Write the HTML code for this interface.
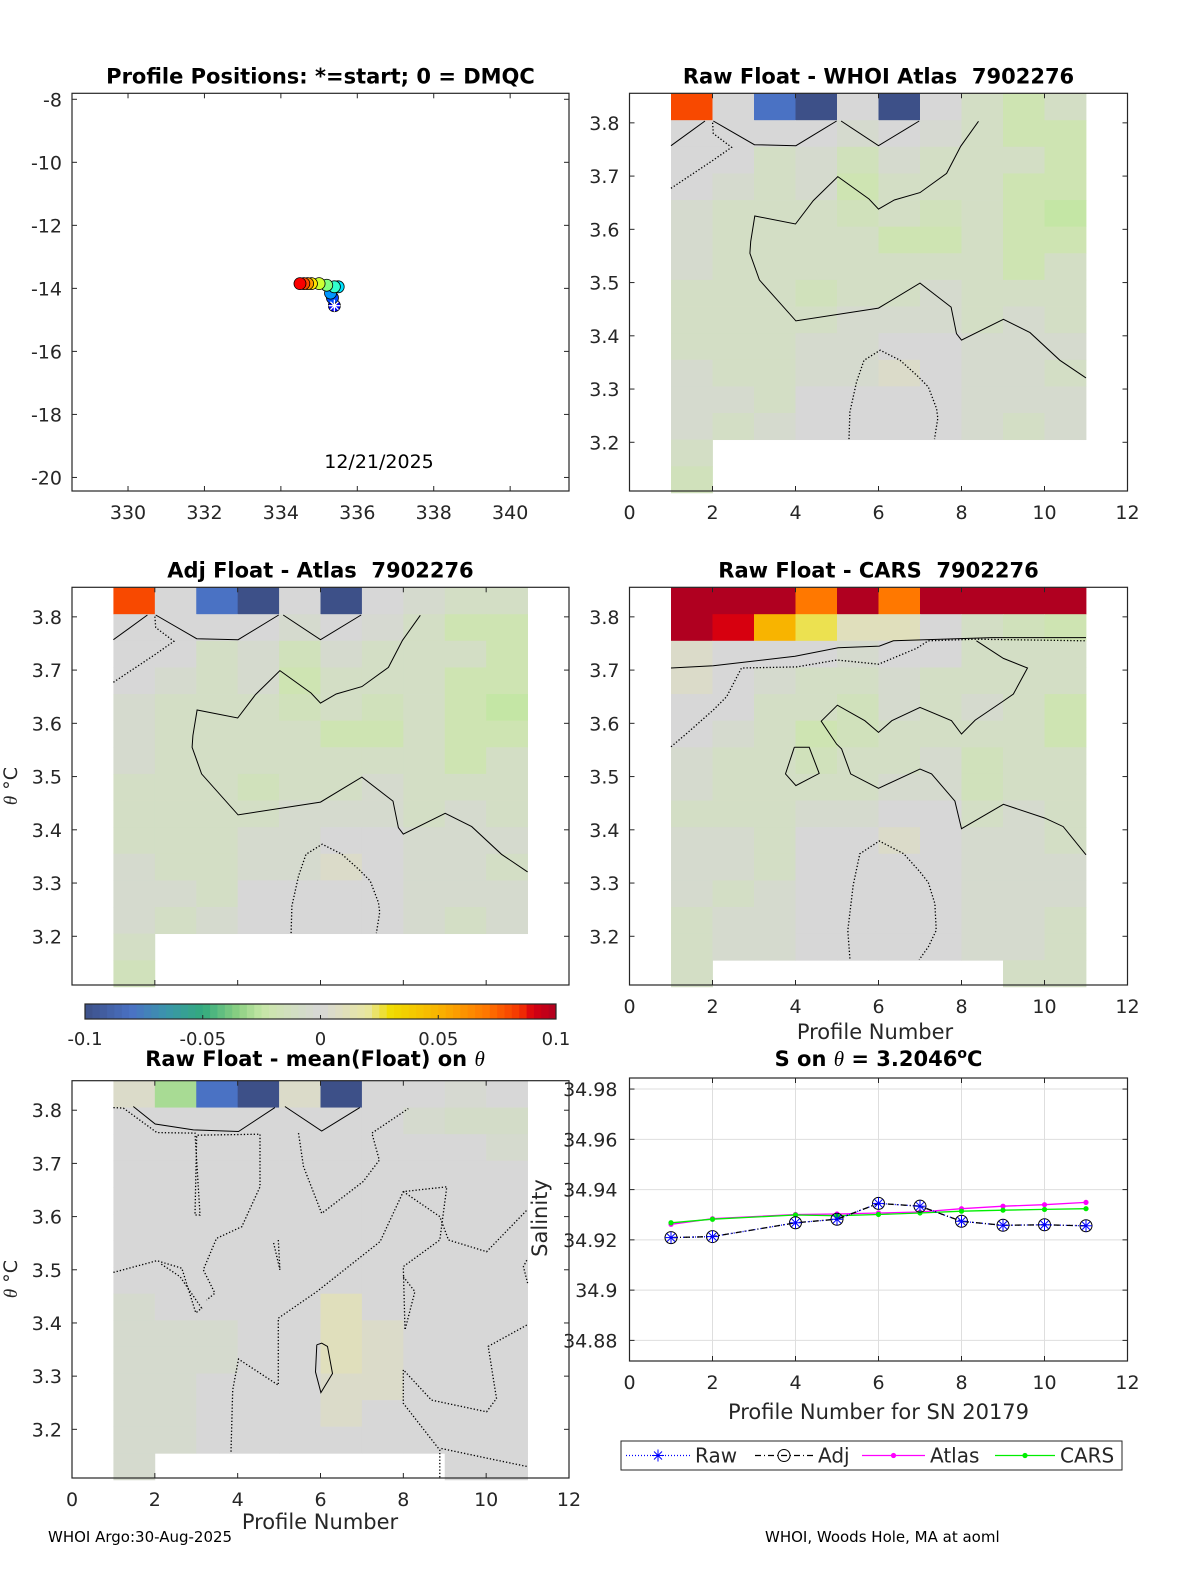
<!DOCTYPE html>
<html><head><meta charset="utf-8"><title>Float QC</title>
<style>
html,body{margin:0;padding:0;background:#fff;}
svg{display:block;font-family:"DejaVu Sans","Liberation Sans",sans-serif;}
svg text{white-space:pre;}
</style></head>
<body>
<svg id="fig" width="1200" height="1575" viewBox="0 0 1200 1575" xmlns="http://www.w3.org/2000/svg">
<rect x="0" y="0" width="1200" height="1575" fill="#fff"/>
</svg>
<script>
// ---------- data ----------
const lonVals = [335.4, 335.35, 335.3, 335.5, 335.4, 335.2, 335.0, 334.8, 334.7, 334.6, 334.5];
const latVals = [-14.55, -14.3, -14.15, -13.95, -13.95, -13.9, -13.85, -13.85, -13.85, -13.85, -13.85];
const lonTicks = [330, 332, 334, 336, 338, 340];
const latTicks = [-8, -10, -12, -14, -16, -18, -20];
const profTicks = [0, 2, 4, 6, 8, 10, 12];
const thetaTicks = [3.2, 3.3, 3.4, 3.5, 3.6, 3.7, 3.8];
const rowTops = [3.855,3.805,3.755,3.705,3.655,3.605,3.555,3.505,3.455,3.405,3.355,3.305,3.255,3.205,3.155];
const colStarts = [1,2,3,4,5,6,7,8,9,10];
const N = null;
const atlasDiff = [
 [0.08,0,-0.08,-0.1,0,-0.1,0,-0.01,-0.02,-0.01],
 [0,0,0,0,-0.005,0,-0.003,-0.01,-0.02,-0.02],
 [0,0,-0.01,-0.005,-0.015,-0.005,-0.01,-0.01,-0.01,-0.02],
 [0,-0.005,-0.01,-0.005,-0.02,-0.01,-0.01,-0.01,-0.02,-0.02],
 [-0.005,-0.01,-0.01,-0.01,-0.015,-0.01,-0.015,-0.01,-0.02,-0.025],
 [-0.005,-0.01,-0.01,-0.01,-0.01,-0.02,-0.02,-0.01,-0.02,-0.02],
 [-0.005,-0.01,-0.01,-0.01,-0.01,-0.01,-0.01,-0.01,-0.02,-0.01],
 [-0.01,-0.01,-0.01,-0.015,-0.01,-0.01,-0.005,-0.01,-0.01,-0.01],
 [-0.01,-0.01,-0.01,-0.01,-0.005,-0.005,-0.005,-0.01,-0.005,-0.01],
 [-0.01,-0.01,-0.01,-0.005,-0.005,0,0,-0.005,-0.005,-0.005],
 [-0.005,-0.01,-0.01,-0.005,-0.005,0.005,0,-0.005,-0.005,-0.01],
 [-0.005,-0.005,-0.01,0,0,0,0,-0.005,-0.005,-0.005],
 [-0.005,-0.01,-0.005,0,0,0,0,-0.005,-0.01,-0.005],
 [-0.01,N,N,N,N,N,N,N,N,N],
 [-0.015,N,N,N,N,N,N,N,N,N]];
const adjAtlasDiff = [
 [0.08,0,-0.08,-0.1,0,-0.1,0,-0.005,-0.01,-0.01],
 [0,0,0,0,-0.005,0,-0.003,-0.01,-0.02,-0.02],
 [0,0,-0.01,-0.005,-0.015,-0.005,-0.01,-0.01,-0.01,-0.02],
 [0,-0.005,-0.01,-0.005,-0.02,-0.01,-0.01,-0.01,-0.02,-0.02],
 [-0.005,-0.01,-0.01,-0.01,-0.015,-0.01,-0.015,-0.01,-0.02,-0.025],
 [-0.005,-0.01,-0.01,-0.01,-0.01,-0.02,-0.02,-0.01,-0.02,-0.02],
 [-0.005,-0.01,-0.01,-0.01,-0.01,-0.01,-0.01,-0.01,-0.02,-0.01],
 [-0.01,-0.01,-0.01,-0.015,-0.01,-0.01,-0.005,-0.01,-0.01,-0.01],
 [-0.01,-0.01,-0.01,-0.01,-0.005,-0.005,-0.005,-0.01,-0.005,-0.01],
 [-0.01,-0.01,-0.01,-0.005,-0.005,0,0,-0.005,-0.005,-0.005],
 [-0.005,-0.01,-0.01,-0.005,-0.005,0.005,0,-0.005,-0.005,-0.01],
 [-0.005,-0.005,-0.01,0,0,0,0,-0.005,-0.005,-0.005],
 [-0.005,-0.01,-0.005,0,0,0,0,-0.005,-0.01,-0.005],
 [-0.01,N,N,N,N,N,N,N,N,N],
 [-0.015,N,N,N,N,N,N,N,N,N]];
const carsDiff = [
 [0.1,0.1,0.1,0.07,0.1,0.07,0.1,0.1,0.1,0.1],
 [0.1,0.09,0.05,0.025,0.01,0.01,0,-0.01,-0.015,-0.02],
 [0.005,0,0,0,-0.005,0,0,-0.01,-0.01,-0.01],
 [0.005,0,-0.005,-0.01,-0.01,-0.005,-0.01,-0.01,-0.01,-0.01],
 [0,0,-0.01,-0.01,-0.015,-0.005,-0.01,-0.005,-0.01,-0.02],
 [0,-0.005,-0.01,-0.02,-0.015,-0.01,-0.01,-0.01,-0.01,-0.02],
 [-0.005,-0.01,-0.01,-0.015,-0.01,-0.01,-0.005,-0.015,-0.01,-0.01],
 [-0.005,-0.01,-0.01,-0.01,-0.01,-0.005,-0.005,-0.015,-0.01,-0.01],
 [-0.01,-0.01,-0.01,-0.005,-0.005,0,0,-0.01,-0.005,-0.01],
 [-0.005,-0.005,-0.01,0,0,0.005,0,-0.005,-0.005,-0.01],
 [-0.005,-0.005,-0.01,0,0,0,0,-0.005,-0.005,-0.005],
 [-0.005,-0.01,-0.005,0,0,0,0,-0.005,-0.005,-0.005],
 [-0.01,-0.005,-0.005,0,0,0,0,-0.005,-0.005,-0.01],
 [-0.01,-0.005,-0.005,0,0,0,0,-0.005,-0.005,-0.01],
 [-0.01,N,N,N,N,N,N,N,-0.01,-0.01]];
const meanDiff = [
 [0.005,-0.03,-0.08,-0.1,0.005,-0.1,0,0,-0.003,0],
 [0,0,0,0,0,0,0,-0.005,-0.008,-0.008],
 [0,0,0,0,0,0,0,0,0,-0.005],
 [0,0,0,0,0,0,0,0,0,0],
 [0,0,0,0,0,0,0,0,0,0],
 [0,0,0,0,0,0,0,0,0,0],
 [0,0,0,0,0,0,0,0,0,0],
 [0,0,0,0,0,0,0,0,0,0],
 [-0.005,0,0,0,0,0.01,0,0,0,0],
 [-0.005,-0.005,-0.005,0,0,0.01,0.005,0,0,0],
 [-0.005,-0.005,-0.005,0,0,0.01,0.005,0,0,0],
 [-0.005,-0.005,0,0,0,0.005,0.005,0,0,0],
 [-0.005,-0.005,0,0,0,0.005,0,0,0,0],
 [-0.005,-0.005,0,0,0,0,0,0,0,0],
 [-0.005,N,N,N,N,N,N,N,0,0]];
// contours [profile, theta]
const atlasSolidA = [[1,3.757],[1.82,3.8035]];
const atlasSolidB = [[2.02,3.8035],[3.01,3.759],[4.01,3.757],[4.99,3.8035]];
const atlasSolidC = [[5.1,3.8035],[6,3.757],[6.98,3.8035]];
const atlasSolidD = [[8.41,3.803],[7.98,3.756],[7.64,3.705],[7,3.669],[6.38,3.655],[6,3.638],[5.77,3.657],[5.02,3.699],[4.43,3.654],[4,3.61],[3.02,3.625],[2.92,3.577],[2.9,3.555],[3.13,3.505],[4.01,3.428],[6,3.452],[7,3.499],[7.75,3.454],[7.88,3.404],[8,3.392],[9.01,3.431],[9.65,3.406],[10.37,3.354],[11,3.321]];
const atlasDotA = [[1,3.677],[2.02,3.73],[2.46,3.754],[2.02,3.78],[2,3.803]];
const atlasDotB = [[5.29,3.206],[5.31,3.257],[5.47,3.313],[5.65,3.354],[6.04,3.373],[6.52,3.354],[6.92,3.326],[7.2,3.304],[7.4,3.263],[7.43,3.245],[7.35,3.206]];
const carsSolidA = [[1,3.704],[2.02,3.708],[3.99,3.726],[5.03,3.742],[6.02,3.745],[6.36,3.755],[8.73,3.761],[11,3.761]];
const carsSolidB = [[8.36,3.755],[9.01,3.722],[9.59,3.704],[9.25,3.655],[9.01,3.642],[8.33,3.606],[8,3.58],[7.76,3.605],[7,3.63],[6.32,3.605],[6,3.583],[5.67,3.605],[5.01,3.634],[4.62,3.604],[4.99,3.561],[5.11,3.552],[5.33,3.505],[6,3.478],[7,3.514],[7.28,3.505],[7.84,3.454],[8,3.402],[9.01,3.448],[10.01,3.422],[10.45,3.406],[11,3.353]];
const carsSolidC = [[3.97,3.555],[4.33,3.555],[4.57,3.506],[4.01,3.483],[3.76,3.505],[3.97,3.555]];
const carsDotA = [[1,3.556],[1.38,3.581],[2.02,3.625],[2.34,3.65],[2.7,3.704],[4.03,3.706],[5,3.719],[6,3.711],[6.92,3.741],[7.2,3.755],[8.36,3.758],[11,3.755]];
const carsDotB = [[5.31,3.158],[5.26,3.211],[5.39,3.296],[5.55,3.355],[6.02,3.379],[6.61,3.355],[7,3.321],[7.2,3.301],[7.36,3.261],[7.39,3.211],[7.2,3.18],[6.98,3.156]];
const meanSolidA = [[1.48,3.807],[2.01,3.774],[2.93,3.763],[4.02,3.76],[4.9,3.805]];
const meanSolidB = [[5.14,3.807],[6.03,3.761],[6.95,3.805]];
const meanSolidC = [[5.91,3.359],[6.03,3.362],[6.17,3.356],[6.29,3.305],[6.01,3.269],[5.88,3.308],[5.91,3.359]];
const meanDotA = [[1,3.805],[1.24,3.804],[2.05,3.758],[2.97,3.757],[3.09,3.603],[2.97,3.603],[3.01,3.753],[4.54,3.755],[4.54,3.656],[4.1,3.581],[3.49,3.559],[3.17,3.5],[3.45,3.456],[3.25,3.443]];
const meanDotB = [[1,3.495],[2.05,3.517],[2.65,3.503],[2.99,3.419],[3.13,3.428],[2.61,3.487],[2.13,3.512]];
const meanDotC = [[3.84,3.158],[3.88,3.274],[4.02,3.332],[4.98,3.283],[4.98,3.409],[5.91,3.459],[7.44,3.553],[8,3.647],[9.05,3.656],[8.88,3.556],[8,3.506],[8.04,3.387],[8.28,3.459],[8,3.487]];
const meanDotD = [[5.47,3.757],[5.59,3.694],[6.03,3.606],[7.03,3.666],[7.42,3.706],[7.24,3.757],[8.12,3.803]];
const meanDotE = [[8,3.647],[8.88,3.6],[9.09,3.556],[10.01,3.534],[10.98,3.612]];
const meanDotF = [[10.98,3.396],[10.05,3.356],[10.25,3.258],[10.01,3.233],[8.68,3.255],[8,3.312],[8,3.249],[8.88,3.161],[8.88,3.108]];
const meanDotG = [[8.92,3.164],[10.01,3.146],[11,3.13]];
const meanDotH = [[4.98,3.556],[5.02,3.5],[4.86,3.553]];
const meanDotI = [[10.98,3.518],[10.9,3.506],[11,3.475]];
// salinity series
const salProfiles = [1,2,4,5,6,7,8,9,10,11];
const salRaw = [34.9209,34.9213,34.9268,34.9282,34.9345,34.9334,34.9274,34.9258,34.9260,34.9256];
const salAdj = [34.9209,34.9213,34.9268,34.9282,34.9345,34.9334,34.9274,34.9258,34.9260,34.9256];
const salAtlas = [34.9262,34.9284,34.9301,34.9303,34.9307,34.9311,34.9324,34.9334,34.9340,34.9349];
const salCars = [34.9268,34.9282,34.9299,34.9296,34.9301,34.9307,34.9314,34.9318,34.9321,34.9324];
const salTicks = [34.88,34.9,34.92,34.94,34.96,34.98];
const cbarTicks = [-0.1,-0.05,0,0.05,0.1];

// ---------- helpers ----------
const svg = document.getElementById('fig');
const NS = 'http://www.w3.org/2000/svg';
function mk(tag, attrs, parent){
  const e = document.createElementNS(NS, tag);
  for (const k in attrs) e.setAttribute(k, attrs[k]);
  (parent||svg).appendChild(e);
  return e;
}
function txt(s, x, y, size, anchor, weight, parent){
  const t = mk('text', {x:x, y:y, 'font-size':size, 'text-anchor':anchor||'middle', 'font-weight':weight||'normal', fill:'#262626'}, parent);
  t.textContent = s;
  return t;
}
function lin(a,b,c,d){ return v => c + (v-a)*(d-c)/(b-a); }
const cmStops = [
 [-0.1,[61,80,136]],[-0.08,[74,114,196]],[-0.065,[58,150,170]],[-0.05,[50,170,125]],[-0.035,[140,208,130]],
 [-0.025,[196,230,165]],[-0.02,[206,228,178]],[0,[215,215,215]],[0.02,[232,230,160]],[0.03,[240,220,0]],[0.05,[248,180,0]],
 [0.07,[255,120,0]],[0.085,[245,50,0]],[0.09,[215,0,15]],[0.1,[176,0,32]]];
function cmap(v){
  v = Math.max(-0.1, Math.min(0.1, v));
  for (let i=0;i<cmStops.length-1;i++){
    const a=cmStops[i], b=cmStops[i+1];
    if (v>=a[0] && v<=b[0]){
      const t=(v-a[0])/(b[0]-a[0]);
      const c=a[1].map((x,j)=>Math.round(x+(b[1][j]-x)*t));
      return 'rgb('+c.join(',')+')';
    }
  }
  return '#d8d8d8';
}
function jet(t){
  const r=Math.max(0,Math.min(1,1.5-Math.abs(4*t-3)));
  const g=Math.max(0,Math.min(1,1.5-Math.abs(4*t-2)));
  const b=Math.max(0,Math.min(1,1.5-Math.abs(4*t-1)));
  return 'rgb('+Math.round(r*255)+','+Math.round(g*255)+','+Math.round(b*255)+')';
}
function axesBox(L,T,R,B,name){
  const g = mk('g', {});
  
  
  return g;
}
function frame(g,L,T,R,B){
  mk('rect',{x:L,y:T,width:R-L,height:B-T,fill:'none',stroke:'#262626','stroke-width':1.2},g);
}

// ---------- heatmap panel ----------
function heatPanel(name, L, T, R, B, grid, contours, title, showXTicks){
  const g = axesBox(L,T,R,B,name);
  const sx = lin(0,12,L,R), sy = lin(3.8555,3.1085,T,B);
  const cells = mk('g',{},g);
  
  
  grid.forEach((row,r)=>{
    row.forEach((v,c)=>{
      if (v===null) return;
      const x0=sx(colStarts[c]), x1=sx(colStarts[c]+1);
      const y0=sy(rowTops[r]), y1=sy(rowTops[r]-0.05);
      const rc = mk('rect',{x:x0,y:y0,width:x1-x0+0.4,height:y1-y0+0.4,fill:cmap(v)},cells);
      
      
    });
  });
  contours.forEach(cn=>{
    const pts = cn.pts.map(p=>sx(p[0]).toFixed(1)+','+sy(p[1]).toFixed(1)).join(' ');
    const pl = mk('polyline',{points:pts,fill:'none',stroke:'#000','stroke-width':cn.dot?1.3:1,'stroke-dasharray':cn.dot?'1.3,2':'none'},g);
    
    
  });
  frame(g,L,T,R,B);
  profTicks.forEach(v=>{
    const x=sx(v);
    mk('line',{x1:x,y1:B,x2:x,y2:B-5,stroke:'#262626'},g);
    mk('line',{x1:x,y1:T,x2:x,y2:T+5,stroke:'#262626'},g);
    if (showXTicks){
      const t=txt(String(v),x,B+28,19,'middle','normal',g);
      
      
    }
  });
  thetaTicks.forEach(v=>{
    const y=sy(v);
    mk('line',{x1:L,y1:y,x2:L+5,y2:y,stroke:'#262626'},g);
    mk('line',{x1:R,y1:y,x2:R-5,y2:y,stroke:'#262626'},g);
    const t=txt(v.toFixed(1),L-10,y+7,19,'end','normal',g);
    
    
  });
  if (title){
    const tt = txt(title,(L+R)/2,T-10,21,'middle','bold',g);
    tt.setAttribute('fill','#000');
    
    
  }
  return g;
}

// ---------- Top-left: positions ----------
(function(){
  const L=72,T=93.3,R=569,B=491;
  const g = axesBox(L,T,R,B,'profile-positions-map');
  const sx = lin(328.534,341.54,L,R), sy = lin(-7.81,-20.43,T,B);
  frame(g,L,T,R,B);
  lonTicks.forEach(v=>{
    const x=sx(v);
    mk('line',{x1:x,y1:B,x2:x,y2:B-5,stroke:'#262626'},g);
    mk('line',{x1:x,y1:T,x2:x,y2:T+5,stroke:'#262626'},g);
    const t=txt(String(v),x,B+28,19,'middle','normal',g);
    
    
  });
  latTicks.forEach(v=>{
    const y=sy(v);
    mk('line',{x1:L,y1:y,x2:L+5,y2:y,stroke:'#262626'},g);
    mk('line',{x1:R,y1:y,x2:R-5,y2:y,stroke:'#262626'},g);
    const t=txt(String(v),L-10,y+7,19,'end','normal',g);
    
    
  });
  const n = lonVals.length;
  for (let i=0;i<n;i++){
    const c = mk('circle',{cx:sx(lonVals[i]),cy:sy(latVals[i]),r:6,fill:jet(0.12+0.76*i/(n-1)),stroke:'#000','stroke-width':0.8},g);
    
    
  }
  const x0=sx(lonVals[0]), y0=sy(latVals[0]);
  const st = mk('g',{},g);
  
  
  [[0,-6,0,6],[-6,0,6,0],[-4,-4,4,4],[-4,4,4,-4]].forEach(d=>mk('line',{x1:x0+d[0],y1:y0+d[1],x2:x0+d[2],y2:y0+d[3],stroke:'#fff','stroke-width':1.3},st));
  const t = txt('12/21/2025',379,468,19,'middle','normal',g);
  t.setAttribute('fill','#000');
  
  
  const tt = txt('Profile Positions: *=start; 0 = DMQC',(L+R)/2,T-10,21,'middle','bold',g);
  tt.setAttribute('fill','#000');
  
  
})();

heatPanel('raw-atlas-heatmap',629.5,93.3,1127.5,491,atlasDiff,[
 {pts:atlasSolidA},{pts:atlasSolidB},{pts:atlasSolidC},{pts:atlasSolidD},{pts:atlasDotA,dot:1},{pts:atlasDotB,dot:1}],
 'Raw Float - WHOI Atlas  7902276', true);
heatPanel('adj-atlas-heatmap',72,587.3,569,985,adjAtlasDiff,[
 {pts:atlasSolidA},{pts:atlasSolidB},{pts:atlasSolidC},{pts:atlasSolidD},{pts:atlasDotA,dot:1},{pts:atlasDotB,dot:1}],
 'Adj Float - Atlas  7902276', false);
heatPanel('raw-cars-heatmap',629.5,587.3,1127.5,985,carsDiff,[
 {pts:carsSolidA},{pts:carsSolidB},{pts:carsSolidC},{pts:carsDotA,dot:1},{pts:carsDotB,dot:1}],
 'Raw Float - CARS  7902276', true);
heatPanel('raw-mean-heatmap',72,1080.7,569,1478,meanDiff,[
 {pts:meanSolidA},{pts:meanSolidB},{pts:meanSolidC},{pts:meanDotA,dot:1},{pts:meanDotB,dot:1},{pts:meanDotC,dot:1},
 {pts:meanDotD,dot:1},{pts:meanDotE,dot:1},{pts:meanDotF,dot:1},{pts:meanDotG,dot:1},{pts:meanDotH,dot:1},{pts:meanDotI,dot:1}],
 '', true);
(function(){
  const t = mk('text',{x:315,y:1066,'font-size':21,'text-anchor':'middle','font-weight':'bold',fill:'#000'});
  
  
  t.textContent = 'Raw Float - mean(Float) on ';
  const s = mk('tspan',{'font-style':'italic','font-family':'Liberation Serif, serif','font-weight':'normal'},t);
  s.textContent = 'θ';
})();
[[786,'adj-y-axis-title'],[1279,'mean-y-axis-title']].forEach(a=>{
  const t = mk('text',{x:0,y:0,'font-size':19,'text-anchor':'middle',fill:'#262626',transform:'translate(17,'+a[0]+') rotate(-90)'});
  
  
  const s = mk('tspan',{'font-style':'italic','font-family':'Liberation Serif, serif'},t); s.textContent='θ';
  const s2 = mk('tspan',{},t); s2.textContent=' °C';
});
(function(){
  let t = txt('Profile Number',875,1039,21,'middle');
   
  t = txt('Profile Number',320,1529,21,'middle');
   
})();

// ---------- colorbar ----------
(function(){
  const L=85,R=556,T=1004,B=1019;
  const g = mk('g',{});
  
  
  const sx = lin(-0.1,0.1,L,R);
  const nb=64;
  for (let i=0;i<nb;i++){
    const v0=-0.1+0.2*i/nb, v1=-0.1+0.2*(i+1)/nb;
    mk('rect',{x:sx(v0),y:T,width:sx(v1)-sx(v0)+0.4,height:B-T,fill:cmap((v0+v1)/2)},g);
  }
  frame(g,L,T,R,B);
  cbarTicks.forEach(v=>{
    const x=sx(v);
    mk('line',{x1:x,y1:B,x2:x,y2:B-4,stroke:'#262626'},g);
    const t=txt(String(v),x,1045,18,'middle','normal',g);
    
    
  });
})();

// ---------- salinity panel ----------
(function(){
  const L=629.5,T=1078,R=1127.5,B=1361;
  const g = axesBox(L,T,R,B,'salinity-chart');
  const sx = lin(0,12,L,R), sy = lin(34.9844,34.8718,T,B);
  profTicks.forEach(v=>{ const x=sx(v); mk('line',{x1:x,y1:T,x2:x,y2:B,stroke:'#dedede'},g); });
  salTicks.forEach(v=>{ const y=sy(v); mk('line',{x1:L,y1:y,x2:R,y2:y,stroke:'#dedede'},g); });
  frame(g,L,T,R,B);
  profTicks.forEach(v=>{
    const x=sx(v);
    mk('line',{x1:x,y1:B,x2:x,y2:B-5,stroke:'#262626'},g);
    mk('line',{x1:x,y1:T,x2:x,y2:T+5,stroke:'#262626'},g);
    const t=txt(String(v),x,B+28,19,'middle','normal',g);
     
  });
  salTicks.forEach(v=>{
    const y=sy(v);
    mk('line',{x1:L,y1:y,x2:L+5,y2:y,stroke:'#262626'},g);
    mk('line',{x1:R,y1:y,x2:R-5,y2:y,stroke:'#262626'},g);
    const t=txt(String(Math.round(v*100)/100),L-12,y+7,19,'end','normal',g);
     
  });
  function series(vals,color,dash,name){
    const pts = salProfiles.map((p,i)=>sx(p).toFixed(1)+','+sy(vals[i]).toFixed(1)).join(' ');
    const pl = mk('polyline',{points:pts,fill:'none',stroke:color,'stroke-width':1.3,'stroke-dasharray':dash},g);
    
    
    return pl;
  }
  series(salAtlas,'#ff00ff','none','atlas-line');
  series(salCars,'#00ee00','none','cars-line');
  salProfiles.forEach((p,i)=>{
    let d=mk('circle',{cx:sx(p),cy:sy(salAtlas[i]),r:2.6,fill:'#ff00ff'},g);
     
    d=mk('circle',{cx:sx(p),cy:sy(salCars[i]),r:2.6,fill:'#00ee00'},g);
     
  });
  series(salRaw,'#0000ff','1,2','raw-line');
  series(salAdj,'#000','6,3,1,3','adj-line');
  salProfiles.forEach((p,i)=>{
    const x=sx(p), y=sy(salAdj[i]);
    const c=mk('circle',{cx:x,cy:y,r:6,fill:'none',stroke:'#000','stroke-width':1},g);
     
    const yr=sy(salRaw[i]);
    const st=mk('g',{},g);
     
    [[0,-6,0,6],[-6,0,6,0],[-4,-4,4,4],[-4,4,4,-4]].forEach(d=>mk('line',{x1:x+d[0],y1:yr+d[1],x2:x+d[2],y2:yr+d[3],stroke:'#0000ff','stroke-width':1},st));
  });
  const tt = mk('text',{x:(L+R)/2,y:T-12,'font-size':21,'text-anchor':'middle','font-weight':'bold',fill:'#000'},g);
   
  tt.appendChild(document.createTextNode('S on '));
  const th = mk('tspan',{'font-style':'italic','font-family':'Liberation Serif, serif','font-weight':'normal'},tt); th.textContent='θ';
  tt.appendChild(document.createTextNode(' = 3.2046'));
  const sup = mk('tspan',{'font-size':14,dy:-8},tt); sup.textContent='o';
  const cc = mk('tspan',{dy:8},tt); cc.textContent='C';
  const xl = txt('Profile Number for SN 20179',(L+R)/2,1419,21,'middle','normal',g);
   
  const yl = mk('text',{x:0,y:0,'font-size':21,'text-anchor':'middle',fill:'#262626',transform:'translate(547,1218) rotate(-90)'},g);
  yl.textContent='Salinity';
   
})();

// ---------- legend ----------
(function(){
  const g = mk('g',{});
  
  
  mk('rect',{x:621,y:1441,width:501,height:29,fill:'#fff',stroke:'#262626','stroke-width':1},g);
  const y=1455.5;
  function entry(x0,x1,color,dash,marker,label,name){
    const e = mk('g',{},g);
    
    
    mk('line',{x1:x0,y1:y,x2:x1,y2:y,stroke:color,'stroke-width':1.2,'stroke-dasharray':dash},e);
    const mx=(x0+x1)/2;
    if (marker==='star') [[0,-6,0,6],[-6,0,6,0],[-4,-4,4,4],[-4,4,4,-4]].forEach(d=>mk('line',{x1:mx+d[0],y1:y+d[1],x2:mx+d[2],y2:y+d[3],stroke:color},e));
    else if (marker==='circle') mk('circle',{cx:mx,cy:y,r:6,fill:'none',stroke:color},e);
    else mk('circle',{cx:mx,cy:y,r:2.6,fill:color},e);
    txt(label,x1+5,y+7,20,'start','normal',e);
  }
  entry(626,690,'#0000ff','1,2','star','Raw','legend-entry-raw');
  entry(755,813,'#000','6,3,1,3','circle','Adj','legend-entry-adj');
  entry(862,925,'#ff00ff','none','dot','Atlas','legend-entry-atlas');
  entry(995,1055,'#00ee00','none','dot','CARS','legend-entry-cars');
})();

// ---------- footer ----------
(function(){
  let t = txt('WHOI Argo:30-Aug-2025',48,1542,15,'start');
  t.setAttribute('fill','#000');
   
  t = txt('WHOI, Woods Hole, MA at aoml',765,1542,15,'start');
  t.setAttribute('fill','#000');
   
})();
</script>
</body></html>
